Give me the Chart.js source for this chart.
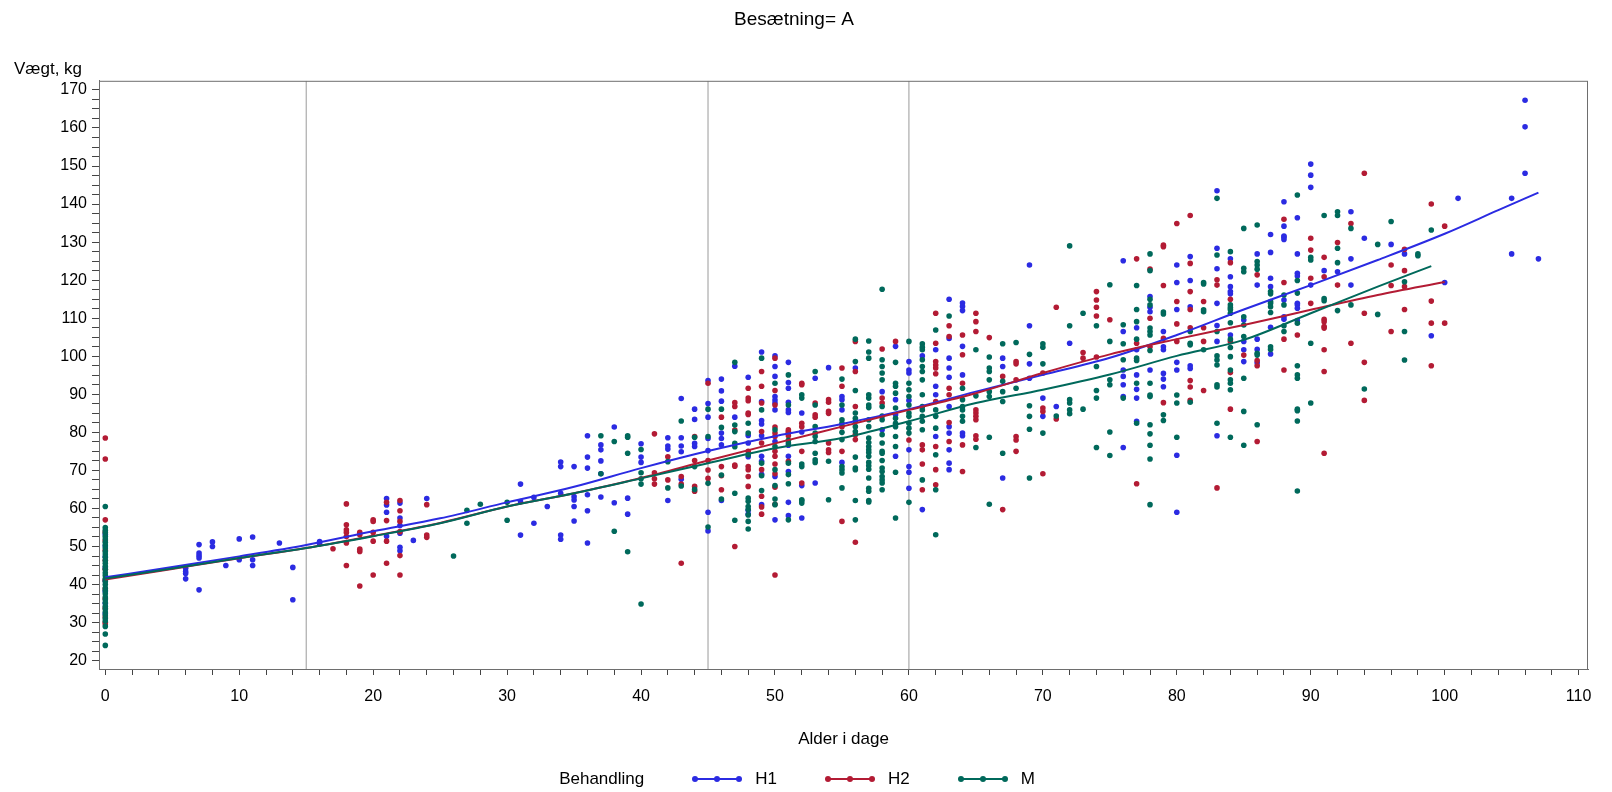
<!DOCTYPE html>
<html>
<head>
<meta charset="utf-8">
<script src="https://cdn.jsdelivr.net/npm/chart.js@4.4.1/dist/chart.umd.min.js"></script>
<style>
  html, body { margin: 0; padding: 0; background: #fff; }
  #wrap { position: relative; width: 1612px; height: 792px; font-family: "Liberation Sans", Arial, sans-serif; }
  #legend { position: absolute; left: 0; top: 766px; width: 1594px; height: 26px; display: flex; justify-content: center; align-items: center; font-size: 17px; color: #000; }
  #legend .item { display: flex; align-items: center; margin-left: 47px; }
  #legend .item canvas { margin-right: 12px; }
</style>
</head>
<body>
<div id="wrap">
  <canvas id="weightChart" width="1612" height="792"></canvas>
  <div id="legend"><span>Behandling</span></div>
</div>
<script>
// weight (kg) by age (days), grouped per day: [day, [weights...]]
const h1Points = [
  [0, [53.2, 50.1, 47.3, 44.4, 41.0, 38.2, 35.1, 32.4]],
  [6, [44.3, 43.4, 42.9, 41.5]], [7, [50.5, 48.3, 47.6, 47.0, 38.6]], [8, [51.2, 50.0]], [9, [45.0]],
  [10, [52.0, 46.5]], [11, [52.5, 46.5, 45.0]], [13, [50.9]], [14, [44.5, 36.0]], [16, [51.3, 50.7]],
  [21, [62.6, 60.9, 59.0, 52.7]], [22, [61.4, 57.5, 55.5, 53.5, 49.8, 48.9]], [23, [51.6]], [24, [62.6]],
  [31, [66.4, 61.8, 53.0]], [32, [62.9, 56.1]], [33, [60.5]], [34, [72.2, 71.0, 64.0, 53.0, 51.9]],
  [35, [71.0, 63.1, 62.2, 60.5, 56.7]], [36, [79.1, 73.5, 70.6, 63.6, 59.4, 50.9]],
  [37, [76.7, 75.4, 72.5, 69.1, 63.0]], [38, [81.4, 61.5]], [39, [62.7, 58.5]], [40, [77.0, 73.5, 72.1]],
  [42, [78.6, 76.4, 75.6, 62.1]], [43, [88.9, 78.6, 76.4, 74.9, 67.7]], [44, [86.1, 83.4, 77.1, 76.3]],
  [45, [93.6, 87.6, 84.0, 78.4, 75.2, 59.0, 54.1]], [46, [94.0, 90.9, 88.2, 79.8, 78.4, 76.7, 62.1]],
  [47, [97.4, 84.0]], [48, [94.5, 79.2, 77.2, 73.6, 59.5, 58.5]],
  [49, [101.1, 88.1, 83.1, 82.2, 79.1, 73.7, 72.4, 69.0, 61.0]],
  [50, [100.1, 97.3, 94.7, 89.4, 88.5, 87.7, 85.9, 77.6, 68.4, 57.0]],
  [51, [98.4, 93.1, 91.6, 87.9, 85.9, 85.2, 76.6, 73.7, 69.7, 61.6, 58.1]],
  [52, [85.1, 80.1, 66.0, 57.5]], [53, [94.2, 66.7]], [54, [97.0]], [55, [89.4, 88.6, 85.9, 72.1]],
  [56, [96.9]], [58, [90.7, 80.7]], [59, [102.6, 88.6, 84.6, 73.7]],
  [60, [98.6, 96.4, 95.6, 88.4, 75.4, 71.0, 69.5, 65.3]], [61, [100.1, 59.7]], [62, [101.7, 92.1, 89.9, 78.9]],
  [63, [115.0, 104.7, 99.5, 96.9, 94.5, 86.8, 81.5, 79.8, 75.4, 71.9, 70.2]],
  [64, [114.0, 113.1, 112.0, 102.6, 95.1, 79.8, 79.1]], [67, [99.5, 97.3, 68.0]],
  [69, [124.0, 108.0, 98.0, 94.2]], [70, [89.0, 84.2]], [71, [86.8]], [72, [103.4]],
  [76, [125.1, 106.5, 96.4, 94.7, 92.5, 89.4, 76.0]], [77, [107.5, 101.7, 95.1, 91.3, 89.0, 82.9]],
  [78, [115.7, 112.9, 111.7, 96.4]], [79, [106.5, 102.5, 101.7, 95.5, 94.0, 92.0]],
  [80, [124.0, 119.4, 112.3, 98.4, 96.4, 74.0, 59.0]], [81, [126.2, 119.9, 113.0, 97.5, 96.8]],
  [83, [143.5, 128.4, 123.0, 113.9, 108.1, 103.9, 79.1]], [84, [125.6, 120.9, 118.3, 117.0, 116.4, 105.6]],
  [85, [109.5, 103.9, 101.7, 98.6]], [86, [126.9, 118.7, 104.5, 101.8, 98.3]],
  [87, [132.0, 127.3, 120.5, 118.3, 107.6, 100.6]],
  [88, [140.6, 134.2, 131.6, 131.3, 130.7, 114.8, 110.4, 109.7]],
  [89, [136.4, 126.9, 121.8, 121.1, 113.9, 113.5, 112.6, 109.4]],
  [90, [150.5, 147.6, 144.4, 118.7]], [91, [122.5]], [92, [122.2]], [93, [138.0, 125.6, 118.7]],
  [94, [131.0]], [96, [129.4]], [97, [126.9]], [99, [105.4]], [100, [119.4]], [101, [141.5]],
  [105, [141.5, 126.9]], [106, [167.3, 160.3, 148.1]], [107, [125.6]]
];

const h2Points = [
  [0, [78.5, 73.0, 57.0, 53.8, 51.5, 49.0, 46.4, 44.0, 41.2, 38.9, 36.3, 33.8, 31.5, 30.1, 29.6]],
  [17, [49.4]], [18, [61.2, 55.7, 54.4, 53.7, 52.6, 50.9, 45.0]], [19, [53.7, 53.1, 49.3, 48.7, 39.6]],
  [20, [57.0, 56.6, 53.7, 51.4, 42.5]], [21, [61.6, 56.8, 51.4, 45.6]],
  [22, [62.1, 59.4, 56.6, 53.9, 47.6, 42.5]], [24, [61.0, 53.0, 52.4]],
  [41, [79.6, 69.4, 67.8, 66.4]], [42, [73.6, 67.5]], [43, [68.4, 66.4, 45.6]], [44, [78.9, 72.6, 65.8, 64.5]],
  [45, [92.9, 72.6, 70.1, 67.9]], [46, [84.0, 71.0, 68.6, 64.9]], [47, [87.8, 86.8, 80.6, 71.4, 71.1, 50.0]],
  [48, [91.6, 89.0, 88.3, 85.1, 84.7, 75.0, 71.0, 70.2, 68.4, 65.8]],
  [49, [96.0, 92.1, 87.7, 80.2, 77.2, 70.2, 63.2, 60.4, 58.5]],
  [50, [99.5, 91.0, 87.2, 81.4, 79.8, 78.9, 75.0, 73.7, 71.7, 69.1, 65.6, 61.1, 42.5]],
  [51, [80.7, 80.2, 79.8, 79.1, 72.4]], [52, [92.9, 92.5, 82.4, 81.5, 75.0, 66.7]], [53, [87.7, 84.6, 84.0]],
  [54, [88.6, 87.9, 85.5, 85.0, 77.2, 75.4, 74.7]], [55, [96.9, 92.1, 81.5, 75.0, 56.6]],
  [56, [103.9, 96.0, 86.8, 79.4, 78.1, 51.1]], [58, [101.9, 89.0, 87.7]], [59, [103.9]], [60, [78.0]],
  [61, [76.7, 75.4, 71.7, 64.9]], [62, [111.3, 103.4, 98.6, 97.7, 96.9, 95.4, 88.1, 76.3, 70.2, 66.2]],
  [63, [108.0, 105.2, 91.6, 89.9, 82.6, 77.6]], [64, [105.6, 100.4, 92.9, 76.7, 69.7]],
  [65, [111.3, 109.1, 106.5, 85.9, 85.1, 84.2, 83.3, 79.1, 78.2]], [66, [104.9]], [67, [94.7, 59.7]],
  [68, [98.6, 98.0, 93.8, 78.9, 78.0, 75.0]], [70, [95.6, 86.4, 85.5, 69.1]], [71, [112.9, 83.5]],
  [73, [101.0, 99.5]], [74, [117.0, 114.8, 112.9, 110.6, 99.8]], [75, [109.6]], [77, [125.6, 103.4, 66.5]],
  [78, [122.9, 110.0, 102.5]], [79, [129.2, 128.8, 118.6, 104.7, 87.8]], [80, [134.9, 114.4, 108.5, 103.9]],
  [81, [137.0, 124.4, 117.0, 112.3, 107.5, 93.6, 91.9, 88.4]], [82, [114.4, 107.5, 103.9, 91.0]],
  [83, [120.1, 118.7, 65.4]], [84, [124.6, 115.0, 103.9, 95.7, 86.1]], [85, [100.3]],
  [86, [121.4, 98.9, 97.5, 77.6]], [88, [136.0, 119.4, 104.5, 96.4]], [89, [105.6]],
  [90, [131.0, 127.9, 120.5, 113.9]], [91, [126.0, 120.9, 109.7, 109.1, 107.8, 107.4, 101.7, 96.0, 74.5]],
  [92, [129.9, 118.7]], [93, [134.9, 103.4]], [94, [148.1, 111.3, 98.4, 88.4]], [96, [124.0, 118.6, 106.5]],
  [97, [128.1, 122.5, 118.3, 112.3]], [99, [140.0, 114.5, 108.7, 97.5]], [100, [134.2, 108.7]]
];

const mPoints = [
  [0, [60.5, 55.0, 54.3, 53.6, 52.7, 52.0, 51.1, 50.4, 49.6, 48.7, 48.0, 47.2, 46.3, 45.6, 44.8, 44.0, 43.1, 42.4,
       41.5, 40.8, 40.0, 39.1, 38.4, 37.6, 36.7, 36.0, 35.2, 34.3, 33.6, 32.8, 32.0, 31.1, 30.4, 29.0, 27.0, 24.0]],
  [26, [47.5]], [27, [59.5, 56.1]], [28, [61.1]], [30, [61.6, 56.9]], [37, [79.1, 69.1]], [38, [77.6, 54.0]],
  [39, [79.1, 78.7, 74.5, 48.6]], [40, [75.5, 69.4, 67.8, 66.4, 34.9]], [42, [72.3, 65.4]], [43, [83.0, 65.9]],
  [44, [78.7, 71.0, 65.0]], [45, [86.1, 78.9, 66.6, 55.1]], [46, [86.1, 81.3, 68.8, 62.5]],
  [47, [98.4, 81.9, 80.2, 77.1, 76.2, 64.0, 56.9]], [48, [82.4, 79.8, 74.1, 62.7, 61.9, 60.5, 59.7, 58.3, 56.6, 54.6]],
  [49, [99.5, 85.9, 71.9, 68.6, 64.7]], [50, [92.9, 80.7, 76.3, 70.2, 66.0, 62.5, 61.0]],
  [51, [95.1, 87.2, 77.9, 77.2, 71.9, 68.9, 66.5, 57.0]], [52, [89.9, 89.0, 71.7, 71.0, 62.3, 61.4, 62.0]],
  [53, [96.0, 87.2, 81.5, 79.8, 78.9, 77.6, 74.5, 72.8, 72.1]], [54, [72.4, 62.3]],
  [55, [94.0, 87.2, 83.3, 82.4, 80.0, 78.1, 71.0, 70.2, 69.3, 65.4]],
  [56, [104.5, 98.6, 91.0, 85.1, 83.7, 82.9, 81.5, 80.2, 73.5, 70.6, 70.2, 62.1, 57.0]],
  [57, [104.0, 101.1, 99.5, 89.9, 89.0, 87.2, 86.5, 83.3, 81.5, 78.5, 77.3, 76.3, 75.4, 74.7, 73.7, 72.1, 71.2, 70.3, 68.0, 65.3, 64.5, 62.1, 61.7]],
  [58, [117.6, 99.1, 97.3, 95.6, 93.8, 86.8, 84.3, 83.3, 79.4, 77.2, 75.0, 74.5, 72.6, 70.6, 69.7, 68.4, 67.5, 66.7, 64.9]],
  [59, [98.4, 92.9, 92.1, 90.3, 86.4, 83.7, 82.4, 81.5, 78.9, 76.3, 69.5, 57.5]],
  [60, [103.9, 92.9, 91.2, 89.4, 87.2, 85.1, 84.2, 82.4, 81.1, 79.8, 61.6]],
  [61, [103.3, 102.4, 101.7, 99.1, 97.3, 96.0, 93.8, 89.9, 86.8, 85.9, 84.2, 82.9, 80.7, 67.5]],
  [62, [106.9, 85.9, 84.2, 81.1, 74.1, 64.9, 53.1]], [63, [110.6]], [64, [91.6, 88.6, 86.8, 85.9, 84.2, 82.9]],
  [65, [101.7, 89.6, 76.0]], [66, [99.8, 96.9, 96.0, 93.8, 90.7, 89.4, 78.7, 61.1]],
  [67, [103.3, 93.4, 90.7, 88.1, 74.5]], [68, [103.6, 91.6]], [69, [100.5, 87.0, 84.2, 80.8, 68.0]],
  [70, [103.3, 102.4, 98.0, 79.8]], [71, [84.3]], [72, [129.0, 108.0, 88.6, 87.7, 85.9, 84.9]], [73, [111.3, 86.1]],
  [74, [108.0, 97.3, 91.0, 89.0, 76.0]], [75, [118.8, 103.9, 93.8, 92.5, 80.1, 73.9]], [76, [108.3, 103.3, 99.1, 89.0]],
  [77, [118.6, 112.3, 109.1, 104.5, 99.5, 98.9, 92.9, 82.4]],
  [78, [126.9, 122.5, 115.0, 113.5, 107.4, 106.5, 105.6, 101.5, 92.9, 89.8, 89.4, 82.0, 79.6, 76.6, 73.0, 61.0]],
  [79, [111.6, 111.1, 84.6, 83.1]], [80, [89.8, 87.7, 78.7]], [81, [106.5, 103.4, 103.0, 87.9]],
  [82, [119.4, 119.0, 112.2, 111.7, 101.7]], [83, [141.5, 126.6, 106.5, 100.1, 99.0, 97.7, 92.5, 91.9, 82.4]],
  [84, [127.5, 113.5, 112.8, 112.3, 111.3, 108.8, 104.5, 102.3, 99.9, 96.4, 93.8, 92.9, 91.2, 78.7]],
  [85, [133.6, 123.1, 122.2, 110.4, 108.2, 105.2, 94.2, 85.5, 76.6]],
  [86, [134.5, 124.9, 124.0, 122.9, 100.8, 100.3, 82.0]], [87, [117.0, 116.4, 114.4, 113.9, 113.0, 111.5, 102.5, 101.8]],
  [88, [116.1, 113.5, 108.0, 106.5]], [89, [142.4, 119.9, 116.6, 108.7, 97.5, 95.1, 94.2, 86.1, 85.7, 83.0, 64.6]],
  [90, [126.0, 125.3, 103.4, 87.7]], [91, [137.0, 115.2, 114.6]], [92, [138.0, 137.0, 128.4, 124.6, 112.0]],
  [93, [133.6, 113.5]], [94, [91.4]], [95, [129.4, 111.0]], [96, [135.4]], [97, [119.6, 106.5, 99.0]],
  [98, [126.9, 126.4]], [99, [133.2]]
];

// smoothed growth curves per treatment: [day, kg]
const h1Curve = [[0, 41.9], [5, 44.6], [10, 47.4], [15, 50.4], [20, 54.0], [25, 57.4], [30, 61.6], [35, 65.7],
  [40, 70.6], [45, 75.1], [50, 79.0], [55, 82.2], [60, 86.1], [65, 90.7], [70, 95.1], [75, 99.6], [80, 105.6],
  [85, 112.3], [90, 118.7], [95, 125.3], [100, 132.2], [104, 138.4], [107, 143.0]];
const h2Curve = [[0, 41.3], [5, 44.1], [10, 46.9], [15, 49.6], [20, 52.8], [25, 56.2], [30, 60.5], [35, 64.0],
  [40, 68.0], [45, 72.6], [50, 77.1], [55, 81.5], [60, 85.9], [65, 90.3], [70, 95.6], [75, 100.5], [80, 104.5],
  [85, 108.2], [90, 112.2], [95, 116.1], [100, 119.5]];
const mCurve = [[0, 41.6], [5, 44.2], [10, 47.0], [15, 49.6], [20, 52.7], [25, 56.1], [30, 60.5], [35, 64.0],
  [40, 67.9], [45, 71.9], [50, 75.8], [55, 78.5], [60, 82.9], [65, 87.7], [70, 91.2], [75, 95.2], [80, 100.1],
  [85, 104.3], [90, 111.3], [95, 118.3], [99, 123.7]];

const refDays = [15, 45, 60];
const groups = ['H1', 'H2', 'M'];
const colors = ['#2b2be2', '#b31b34', '#00695b'];
const xRange = [-0.47, 110.7];
const yRange = [17.8, 172.4];

const toXY = rows => rows.flatMap(([d, ws]) => ws.map(w => ({ x: d, y: w })));
const curveXY = rows => rows.map(([x, y]) => ({ x, y }));

const pointSets = [h1Points, h2Points, mPoints];
const curveSets = [h1Curve, h2Curve, mCurve];

const datasets = [];
refDays.forEach(d => {
  datasets.push({
    data: [{ x: d, y: yRange[0] }, { x: d, y: yRange[1] }],
    showLine: true, borderColor: '#9a9a9a', borderWidth: 1, pointRadius: 0, order: 20
  });
});
groups.forEach((g, i) => {
  datasets.push({
    label: g, data: toXY(pointSets[i]),
    pointRadius: 2.8, pointBorderWidth: 0, pointBackgroundColor: colors[i], pointBorderColor: colors[i],
    order: 12 - i
  });
});
groups.forEach((g, i) => {
  datasets.push({
    label: g + ' fit', data: curveXY(curveSets[i]),
    showLine: true, borderColor: colors[i], borderWidth: 2, pointRadius: 0,
    cubicInterpolationMode: 'monotone', order: 5 - i
  });
});

// frame round the plot and the horizontal y label
const framePlugin = {
  id: 'frame',
  afterDraw(chart) {
    const { ctx, chartArea: a } = chart;
    ctx.save();
    ctx.strokeStyle = '#6e6e6e';
    ctx.lineWidth = 1;
    ctx.strokeRect(a.left + 0.5, a.top + 0.5, a.right - a.left - 1, a.bottom - a.top);
    ctx.fillStyle = '#000';
    ctx.font = '17px "Liberation Sans", Arial, sans-serif';
    ctx.textBaseline = 'alphabetic';
    ctx.fillText('Vægt, kg', a.left - 85, a.top - 7);
    ctx.restore();
  }
};

const tickFont = { family: '"Liberation Sans", Arial, sans-serif', size: 16 };
const labelFont = { family: '"Liberation Sans", Arial, sans-serif', size: 17 };

new Chart(document.getElementById('weightChart'), {
  type: 'scatter',
  data: { datasets },
  options: {
    responsive: false, animation: false,
    layout: { padding: { right: 24, bottom: 32 } },
    plugins: {
      legend: { display: false },
      tooltip: { enabled: false },
      title: { display: true, text: 'Besætning= A', color: '#000',
        font: { family: labelFont.family, size: 19, weight: 'normal' }, padding: { top: 8, bottom: 50 } }
    },
    scales: {
      x: {
        type: 'linear', min: xRange[0], max: xRange[1],
        ticks: { stepSize: 2, autoSkip: false, includeBounds: false, maxRotation: 0, color: '#000', font: tickFont,
          padding: 12, callback: v => (v % 10 === 0 ? String(v) : '') },
        grid: { drawOnChartArea: false, tickLength: 6, color: '#444' },
        border: { color: '#6e6e6e' },
        title: { display: true, text: 'Alder i dage', color: '#000', font: labelFont, padding: { top: 0, bottom: 10 } },
        afterFit: s => { s.height = 91; }
      },
      y: {
        type: 'linear', min: yRange[0], max: yRange[1],
        ticks: { stepSize: 2.5, autoSkip: false, includeBounds: false, color: '#000', font: tickFont,
          padding: 5, callback: v => (v % 10 === 0 ? String(v) : '') },
        grid: { drawOnChartArea: false, tickLength: 7, color: '#444' },
        border: { color: '#6e6e6e' },
        afterFit: s => { s.width = 99; }
      }
    }
  },
  plugins: [framePlugin]
});

// legend: line with three markers per treatment
const legend = document.getElementById('legend');
groups.forEach((g, i) => {
  const item = document.createElement('span');
  item.className = 'item';
  const sym = document.createElement('canvas');
  sym.width = 52; sym.height = 10;
  const c = sym.getContext('2d');
  c.strokeStyle = colors[i]; c.fillStyle = colors[i]; c.lineWidth = 2;
  c.beginPath(); c.moveTo(3, 5); c.lineTo(49, 5); c.stroke();
  [4, 26, 48].forEach(px => { c.beginPath(); c.arc(px, 5, 3, 0, Math.PI * 2); c.fill(); });
  item.appendChild(sym);
  item.appendChild(document.createTextNode(g));
  legend.appendChild(item);
});
</script>
</body>
</html>
